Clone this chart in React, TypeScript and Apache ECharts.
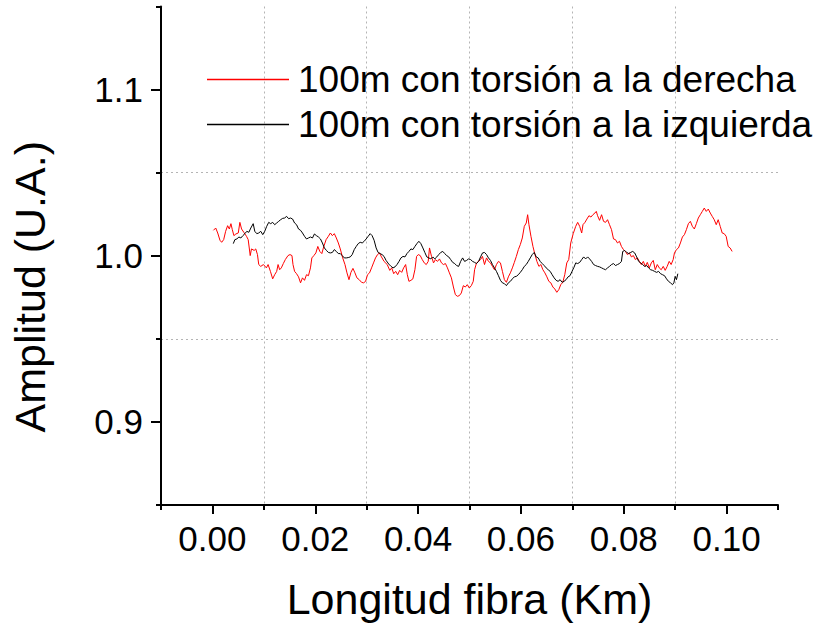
import React, { useEffect, useRef } from "react";
import * as echarts from "echarts";

// Longitud fibra (Km), Amplitud (U.A.)
const redX = [0.0002,0.00064,0.00103,0.00147,0.0018,0.00219,0.00257,0.00296,0.00329,0.0036,0.00387,0.00418,0.00456,0.00503,0.00534,0.00567,0.00611,0.00663,0.00696,0.00735,0.0076,0.00812,0.00843,0.00876,0.00901,0.0094,0.00992,0.0105,0.01083,0.01128,0.01172,0.01211,0.0125,0.01277,0.01308,0.0134,0.01379,0.01418,0.0147,0.01509,0.01547,0.01567,0.01598,0.01636,0.01675,0.01714,0.01752,0.01791,0.0183,0.01868,0.01907,0.01934,0.01973,0.02012,0.0205,0.02089,0.02128,0.02166,0.02211,0.02255,0.02294,0.02333,0.02371,0.0241,0.02449,0.02487,0.02534,0.02578,0.02617,0.02656,0.02694,0.02733,0.02772,0.0281,0.02855,0.02901,0.0294,0.02979,0.03017,0.03056,0.03095,0.03133,0.03172,0.03211,0.03249,0.03288,0.03338,0.034,0.03449,0.03487,0.03526,0.03565,0.03603,0.03642,0.03681,0.03719,0.03758,0.03791,0.03822,0.03861,0.03899,0.03938,0.03971,0.04004,0.04042,0.04081,0.0412,0.04159,0.04197,0.04222,0.04261,0.043,0.04338,0.04377,0.04416,0.04455,0.04493,0.04532,0.04571,0.04609,0.04648,0.04687,0.04725,0.04764,0.04803,0.04841,0.0488,0.04919,0.04957,0.04996,0.05035,0.05073,0.05099,0.05137,0.05176,0.05215,0.05253,0.05292,0.05331,0.05369,0.05408,0.05447,0.05485,0.05524,0.05563,0.05602,0.0564,0.05679,0.05718,0.05756,0.05795,0.05834,0.05872,0.05911,0.0595,0.05988,0.06027,0.06066,0.06104,0.06131,0.06156,0.06195,0.06234,0.06273,0.06311,0.0635,0.06389,0.06427,0.06466,0.06505,0.06543,0.06582,0.06621,0.06659,0.06698,0.06737,0.06775,0.06814,0.06853,0.06892,0.0693,0.06969,0.07017,0.07066,0.07104,0.07143,0.07182,0.07207,0.07246,0.07284,0.07323,0.07362,0.074,0.07439,0.07466,0.07491,0.0753,0.07569,0.07607,0.07646,0.07685,0.07723,0.07762,0.07801,0.07839,0.07878,0.07917,0.07955,0.07994,0.08033,0.08071,0.0811,0.08149,0.08187,0.08226,0.08265,0.08304,0.08342,0.08381,0.0842,0.08458,0.08497,0.08536,0.08574,0.08613,0.08652,0.0869,0.08729,0.08768,0.08806,0.08845,0.08884,0.08922,0.08961,0.08986,0.09025,0.09064,0.09102,0.09141,0.0918,0.09218,0.09257,0.09296,0.09334,0.09373,0.09412,0.0945,0.09489,0.09528,0.09566,0.09605,0.09644,0.09683,0.09721,0.0976,0.09799,0.09837,0.09876,0.09915,0.09953,0.09992,0.10031,0.10069,0.10108];
const redY = [1.0153,1.0167,1.0137,1.0093,1.0081,1.0097,1.0147,1.0181,1.0161,1.0193,1.0157,1.0121,1.0131,1.0137,1.0201,1.0161,1.0141,1.0117,1.0097,1.0001,1.0041,1.0032,1.0041,1.0007,0.9947,0.9936,0.9947,0.9927,0.9947,0.9906,0.9861,0.9886,0.9906,0.9947,0.9916,0.9927,0.9953,0.9977,1.0001,1.0007,1.0001,0.9947,0.9906,0.9892,0.9873,0.9837,0.9867,0.9852,0.9886,0.988,0.9927,0.9987,1.0001,1.0017,1.0056,1.0026,1.0013,1.0056,1.0097,1.0117,1.0137,1.0121,1.0133,1.0107,1.0077,1.0041,0.9987,0.9947,0.9897,0.9856,0.99,0.9924,0.9897,0.9867,0.9856,0.984,0.9837,0.9846,0.9886,0.9897,0.9927,0.9957,0.9987,1.0007,1.0017,0.9993,0.9966,0.9947,0.9912,0.9927,0.9892,0.9906,0.9886,0.9912,0.99,0.9927,0.9947,0.9886,0.9846,0.9852,0.9861,0.9916,0.9996,1.0007,1.0001,0.9977,0.9957,0.9947,0.9966,1.0047,0.9996,0.9957,0.9977,0.9966,0.9981,0.9957,0.9947,0.9953,0.9927,0.9897,0.9867,0.9812,0.9766,0.9756,0.976,0.9776,0.982,0.9812,0.9826,0.9806,0.982,0.9846,0.9916,0.9957,0.9966,0.9977,0.9996,0.9947,0.9987,0.9966,0.9957,0.9936,0.9916,0.9947,0.9966,0.9957,0.9906,0.9856,0.984,0.9873,0.9897,0.9927,0.996,0.9996,1.0037,1.0067,1.0107,1.0177,1.0197,1.0247,1.0187,1.0117,1.0056,1.0007,0.9966,0.9936,0.9947,0.9916,0.9897,0.9873,0.9846,0.9837,0.9812,0.98,0.978,0.9796,0.9826,0.984,0.9886,0.9957,0.9977,1.0077,1.0133,1.0177,1.0201,1.0177,1.0137,1.0187,1.0201,1.0221,1.0241,1.0233,1.0247,1.0257,1.0267,1.0241,1.0213,1.0247,1.0207,1.0201,1.0217,1.0187,1.0157,1.0101,1.0097,1.0077,1.0087,1.0056,1.0037,1.0026,1.0007,1.0017,0.9993,1.0001,0.9977,0.9987,0.9966,0.9947,0.9966,0.9936,0.996,0.9927,0.9957,0.9972,0.9916,0.9947,0.9927,0.9916,0.9936,0.9912,0.9936,0.9966,0.9947,0.9977,1.0017,1.0037,1.0047,1.0077,1.0113,1.0127,1.0157,1.0193,1.0207,1.0177,1.0161,1.0193,1.0227,1.0247,1.0267,1.0287,1.0267,1.0281,1.0257,1.0237,1.0217,1.0187,1.0217,1.0177,1.0137,1.0133,1.0117,1.0056,1.0047,1.0026];

const blackX = [0.00406,0.00437,0.00476,0.00514,0.00553,0.00592,0.00631,0.00669,0.00708,0.00747,0.00793,0.00824,0.00863,0.00901,0.0094,0.00979,0.01017,0.01056,0.01095,0.01133,0.01172,0.01211,0.0125,0.01288,0.01327,0.01366,0.01404,0.01443,0.01482,0.0152,0.01559,0.01598,0.01636,0.01675,0.01714,0.01752,0.01791,0.0183,0.01868,0.01907,0.01946,0.01984,0.02023,0.02062,0.02101,0.02139,0.02178,0.02217,0.02255,0.02294,0.02333,0.02371,0.0241,0.02449,0.02487,0.02526,0.02565,0.02603,0.02642,0.02681,0.02719,0.02758,0.02797,0.02836,0.02874,0.02913,0.02952,0.0299,0.03029,0.03068,0.03106,0.03145,0.03184,0.03222,0.03261,0.033,0.03338,0.03377,0.03429,0.03474,0.03513,0.03551,0.0359,0.03629,0.03667,0.03706,0.03745,0.03783,0.03822,0.03861,0.03899,0.03938,0.03977,0.04015,0.04054,0.04093,0.04131,0.0417,0.04209,0.04248,0.04286,0.04325,0.04364,0.04402,0.04441,0.0448,0.04518,0.04557,0.04596,0.04634,0.04673,0.04712,0.0475,0.04789,0.04828,0.04866,0.04905,0.04944,0.04982,0.05021,0.0506,0.05099,0.05137,0.05176,0.05215,0.05253,0.05292,0.05331,0.05369,0.05408,0.05447,0.05485,0.05524,0.05563,0.05602,0.0564,0.05679,0.05718,0.05756,0.05795,0.05834,0.05872,0.05911,0.0595,0.05988,0.06027,0.06066,0.06104,0.06143,0.06182,0.0622,0.06259,0.06298,0.06336,0.06375,0.06414,0.06453,0.06491,0.0653,0.06569,0.06607,0.06646,0.06685,0.06723,0.06762,0.06801,0.06839,0.06878,0.06917,0.06955,0.06994,0.07033,0.07066,0.07104,0.07143,0.07182,0.0722,0.07259,0.07298,0.07336,0.07375,0.07414,0.07452,0.07491,0.0753,0.07569,0.07607,0.07646,0.07685,0.07723,0.07762,0.07801,0.07839,0.07878,0.07917,0.07955,0.0798,0.08019,0.08058,0.08097,0.08135,0.08174,0.08213,0.08251,0.0829,0.08329,0.08367,0.08406,0.08445,0.08483,0.08522,0.08561,0.08599,0.08638,0.08677,0.08716,0.08754,0.08793,0.08832,0.0887,0.08909,0.08948,0.08975,0.09,0.09025,0.09052];
const blackY = [1.0073,1.0097,1.0101,1.0113,1.0107,1.0121,1.0133,1.0147,1.0141,1.0167,1.0193,1.0147,1.0133,1.0137,1.0147,1.0127,1.0147,1.0177,1.0201,1.0193,1.0201,1.0187,1.0197,1.0207,1.0217,1.0225,1.0227,1.0237,1.0223,1.0227,1.0221,1.0197,1.0187,1.0161,1.0153,1.0137,1.0117,1.0101,1.0107,1.0113,1.0107,1.0131,1.0121,1.0113,1.0101,1.0077,1.0047,1.0032,1.002,1.0017,1.002,1.0037,1.0026,1.0013,1.0013,1.0001,0.9987,0.9987,0.9989,0.9993,1.0007,1.0037,1.0056,1.0073,1.0081,1.0077,1.0087,1.0101,1.0117,1.0133,1.0121,1.0093,1.0047,1.002,1.0013,1.0007,0.9996,0.9972,0.995,0.9936,0.9927,0.9933,0.9947,0.9966,0.9987,0.9996,0.9993,1.0013,1.0026,1.0041,1.0037,1.0056,1.0073,1.0087,1.0073,1.0047,1.002,0.9993,0.9987,0.9981,0.9993,0.9981,0.9993,1.0007,1.002,1.0026,1.0013,1.0001,0.9993,0.9977,0.996,0.9953,0.9941,0.9936,0.9966,0.9987,0.9966,0.9972,0.9981,0.9977,0.9966,0.996,0.9953,0.9966,0.9993,1.0017,1.002,1.0007,0.9987,0.9972,0.9947,0.9927,0.9906,0.988,0.9852,0.9837,0.9832,0.982,0.9837,0.9846,0.9861,0.9873,0.9876,0.9886,0.99,0.9916,0.9936,0.9947,0.9966,0.9987,1.0007,1.002,0.9993,0.9987,0.9966,0.9953,0.9941,0.9927,0.9916,0.9906,0.9886,0.9867,0.9852,0.9846,0.9856,0.984,0.9846,0.9856,0.9873,0.988,0.9906,0.9931,0.9957,0.9953,0.996,0.9977,0.9993,0.9981,0.9993,0.9981,0.9966,0.9947,0.9941,0.9936,0.9933,0.9927,0.9921,0.9916,0.9927,0.9936,0.9947,0.9953,0.9941,0.9947,0.9953,0.9966,1.0026,1.0032,1.002,1.0013,1.002,1.0026,1.0017,0.9993,0.9966,0.9957,0.9947,0.9936,0.9941,0.9927,0.9916,0.9912,0.9906,0.99,0.9906,0.9892,0.9886,0.988,0.9861,0.9846,0.9837,0.9826,0.9837,0.9876,0.9856,0.9892];

const seriesNames = ["100m con torsión a la derecha", "100m con torsión a la izquierda"];
const xMajorTicks = [0, 0.02, 0.04, 0.06, 0.08, 0.1];
const xMinorTicks = [-0.01, 0.01, 0.03, 0.05, 0.07, 0.09, 0.11];
const yMajorTicks = [0.9, 1.0, 1.1];
const yMinorTicks = [0.85, 0.95, 1.05, 1.15];
const xTitle = "Longitud fibra (Km)";
const yTitle = "Amplitud (U.A.)";

const FONT = "'Liberation Sans', Arial, Helvetica, sans-serif";

export default function App() {
  const ref = useRef<HTMLDivElement>(null);
  useEffect(() => {
    if (!ref.current) return;
    const chart = echarts.init(ref.current, null, { renderer: "svg" });
    const zip = (xs: number[], ys: number[]) => xs.map((x, i) => [x, ys[i]]);
    const axisLine = { show: true, onZero: false, lineStyle: { color: "#000", width: 2 } };
    const grid = { type: [2, 3], color: "#b4b4b4", width: 1 };
    chart.setOption({
      animation: false,
      backgroundColor: "#fff",
      textStyle: { fontFamily: FONT },
      grid: { left: 159, right: 35, top: 6.5, bottom: 119.3, containLabel: false },
      legend: {
        orient: "vertical",
        left: 207,
        top: 61,
        padding: 0,
        icon: "rect",
        itemWidth: 82,
        itemHeight: 1.4,
        itemGap: 8,
        data: seriesNames,
        textStyle: { fontFamily: FONT, fontSize: 37, color: "#000", lineHeight: 37, padding: [0, 0, 0, 4] },
      },
      xAxis: [
        {
          type: "value",
          min: -0.01,
          max: 0.11,
          position: "bottom",
          axisLine,
          axisTick: { show: true, inside: false, length: 9, customValues: xMajorTicks, lineStyle: { color: "#000", width: 2 } },
          axisLabel: { show: true, customValues: xMajorTicks, margin: 16, fontSize: 35, color: "#000", fontFamily: FONT, formatter: (v: number) => v.toFixed(2) },
          splitLine: { show: false },
          name: xTitle,
          nameLocation: "middle",
          nameGap: 72,
          nameTextStyle: { fontSize: 43, color: "#000", fontFamily: FONT },
        },
        {
          type: "value",
          min: -0.01,
          max: 0.11,
          position: "bottom",
          axisLine: { show: false, onZero: false },
          axisTick: { show: true, inside: false, length: 5, customValues: xMinorTicks, lineStyle: { color: "#000", width: 2 } },
          axisLabel: { show: false },
          splitLine: { show: true, showMinLine: false, showMaxLine: false, lineStyle: grid },
        },
      ],
      yAxis: [
        {
          type: "value",
          min: 0.85,
          max: 1.15,
          position: "left",
          axisLine,
          axisTick: { show: true, inside: false, length: 10, customValues: yMajorTicks, lineStyle: { color: "#000", width: 2 } },
          axisLabel: { show: true, customValues: yMajorTicks, margin: 18, fontSize: 35, color: "#000", fontFamily: FONT, formatter: (v: number) => v.toFixed(1) },
          splitLine: { show: false },
          name: yTitle,
          nameLocation: "middle",
          nameGap: 110,
          nameTextStyle: { fontSize: 43, color: "#000", fontFamily: FONT, padding: [0, 62, 0, 0] },
        },
        {
          type: "value",
          min: 0.85,
          max: 1.15,
          position: "left",
          axisLine: { show: false, onZero: false },
          axisTick: { show: true, inside: false, length: 5, customValues: yMinorTicks, lineStyle: { color: "#000", width: 2 } },
          axisLabel: { show: false },
          splitLine: { show: true, showMinLine: false, showMaxLine: false, lineStyle: grid },
        },
      ],
      series: [
        {
          name: seriesNames[0],
          type: "line",
          xAxisIndex: 0,
          yAxisIndex: 0,
          data: zip(redX, redY),
          symbol: "none",
          showSymbol: false,
          color: "#ff0000",
          lineStyle: { color: "#ff0000", width: 1 },
          z: 3,
        },
        {
          name: seriesNames[1],
          type: "line",
          xAxisIndex: 0,
          yAxisIndex: 0,
          data: zip(blackX, blackY),
          symbol: "none",
          showSymbol: false,
          color: "#000000",
          lineStyle: { color: "#000000", width: 1 },
          z: 4,
        },
      ],
    });
    return () => chart.dispose();
  }, []);
  return (
    <div
      ref={ref}
      style={{ position: "fixed", left: 0, top: 0, width: 813, height: 625, background: "#fff" }}
    />
  );
}
